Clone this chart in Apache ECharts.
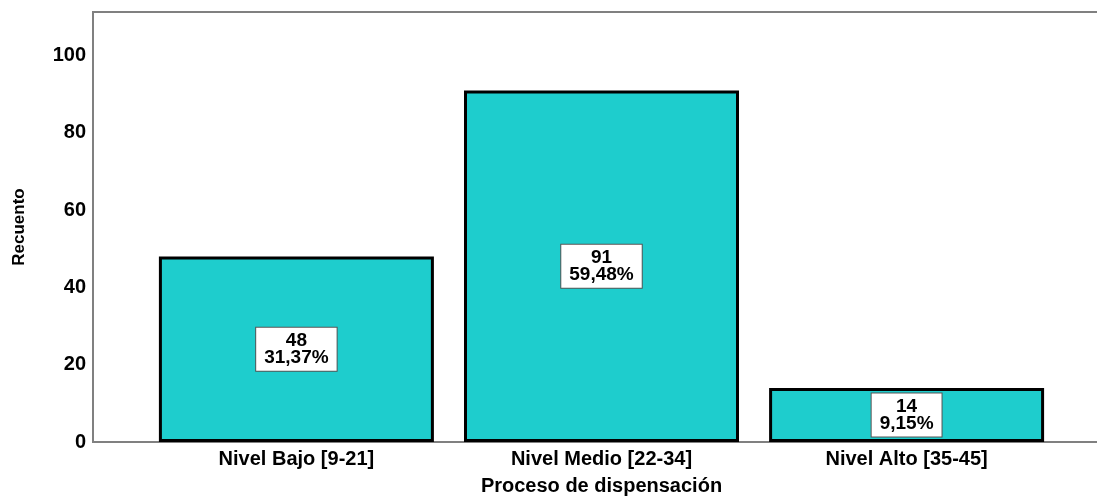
<!DOCTYPE html>
<html>
<head>
<meta charset="utf-8">
<script src="https://cdn.jsdelivr.net/npm/echarts@6/dist/echarts.min.js"></script>
<style>
html,body{margin:0;padding:0;background:#fff;}
#chart{width:1097px;height:502px;}
</style>
</head>
<body>
<div id="chart"></div>
<script>
const categories = ['Nivel Bajo [9-21]', 'Nivel Medio [22-34]', 'Nivel Alto [35-45]'];
const counts = [48, 91, 14];
const percents = ['31,37%', '59,48%', '9,15%'];
const yTicks = [0, 20, 40, 60, 80, 100];

const FONT = '"Liberation Sans", Arial, sans-serif';
const chart = echarts.init(document.getElementById('chart'), null, {renderer: 'canvas'});

const barData = counts.map((v, i) => [i, v]);

chart.setOption({
  animation: false,
  backgroundColor: '#ffffff',
  grid: {
    left: 93, top: 12, width: 1017, height: 430,
    outerBoundsMode: 'none',
    containLabel: false,
    show: true, borderColor: '#808080', borderWidth: 2, backgroundColor: 'transparent'
  },
  xAxis: {
    type: 'value',
    min: -2 / 3,
    max: 8 / 3,
    splitLine: {show: false},
    axisLine: {show: true, onZero: false, lineStyle: {color: '#808080', width: 2}},
    axisTick: {show: false},
    axisLabel: {
      customValues: categories.map((c, i) => i),
      formatter: v => categories[Math.round(v)] || '',
      color: '#000', fontFamily: FONT, fontWeight: 'bold', fontSize: 20, margin: 7
    },
    name: 'Proceso de dispensación',
    nameLocation: 'middle',
    nameGap: 34,
    nameTextStyle: {color: '#000', fontFamily: FONT, fontWeight: 'bold', fontSize: 20}
  },
  yAxis: {
    type: 'value',
    min: 0,
    max: 111.3,
    interval: 20,
    splitLine: {show: false},
    axisLine: {show: true, onZero: false, lineStyle: {color: '#808080', width: 2}},
    axisTick: {show: false},
    axisLabel: {
      showMaxLabel: false,
      formatter: v => (yTicks.indexOf(v) >= 0 ? String(v) : ''),
      color: '#000', fontFamily: FONT, fontWeight: 'bold', fontSize: 20, margin: 7
    },
    name: 'Recuento',
    nameLocation: 'middle',
    nameRotate: 90,
    nameGap: 65,
    nameTextStyle: {color: '#000', fontFamily: FONT, fontWeight: 'bold', fontSize: 17}
  },
  series: [{
    type: 'bar',
    data: barData,
    barWidth: 275,
    itemStyle: {color: '#1ecdcd', borderColor: '#000', borderWidth: 3},
    label: {
      show: true,
      position: 'inside',
      formatter: p => counts[p.dataIndex] + '\n' + percents[p.dataIndex],
      color: '#000',
      fontFamily: FONT,
      fontWeight: 'bold',
      fontSize: 19,
      lineHeight: 17,
      align: 'center',
      backgroundColor: '#ffffff',
      borderColor: '#555555',
      borderWidth: 1,
      padding: [5, 8, 4, 8]
    }
  }]
});
</script>
</body>
</html>
